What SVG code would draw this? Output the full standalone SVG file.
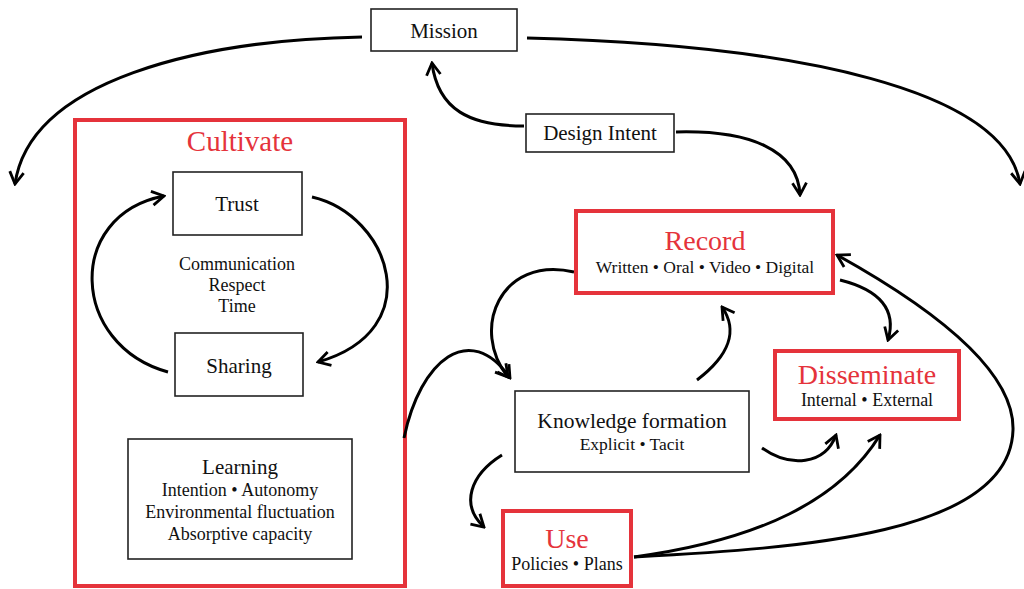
<svg xmlns="http://www.w3.org/2000/svg" width="1024" height="589" viewBox="0 0 1024 589">
<style>
.box{fill:#fff;stroke:#222;stroke-width:1.6}
.rbox{fill:#fff;stroke:#e5333b;stroke-width:4}
.t{font-family:"Liberation Serif","Times New Roman",serif;fill:#111;text-anchor:middle}
.r{fill:#e5333b}
.c{fill:none;stroke:#000;stroke-width:3;marker-end:url(#ah)}
</style>
<defs>
<marker id="ah" viewBox="-14 -9 16 18" refX="0" refY="0" markerWidth="16" markerHeight="18" markerUnits="userSpaceOnUse" orient="auto">
<path d="M-12,-7 L0,0 L-12,7" fill="none" stroke="#000" stroke-width="2.8"/>
</marker>
</defs>
<rect width="1024" height="589" fill="#fff"/>
<g id="cultivate">
<rect class="rbox" x="75" y="120" width="330" height="466" style="fill:none"/>
<text class="t r" x="240" y="151" font-size="29">Cultivate</text>
</g>
<g id="connectors">
<path class="c" d="M362 37 C200 40, 30 80, 15 184"/>
<path class="c" d="M527 38 C800 45, 1005 90, 1020 184"/>
<path class="c" d="M524 126 C470 126, 438 110, 432 63"/>
<path class="c" d="M676 132 C750 130, 798 150, 800 195"/>
<path class="c" d="M312 197 C390 215, 430 330, 318 362"/>
<path class="c" d="M168 372 C70 345, 65 215, 164 196"/>
<path class="c" d="M404 438 C420 360, 470 320, 510 378"/>
<path class="c" d="M574 272 C500 255, 470 330, 508 377"/>
<path class="c" d="M697 380 C730 355, 738 330, 722 307"/>
<path class="c" d="M840 280 C880 290, 897 310, 888 340"/>
<path class="c" d="M634 557 C800 548, 1010 535, 1013 430 C1015 360, 900 290, 837 255"/>
<path class="c" d="M634 557 C760 540, 840 500, 880 435"/>
<path class="c" d="M762 448 C790 468, 825 465, 836 435"/>
<path class="c" d="M502 455 C470 475, 460 505, 484 527"/>
</g>
<g id="mission">
<rect class="box" x="371" y="9" width="146" height="42"/>
<text class="t" x="444" y="38" font-size="21">Mission</text>
</g>
<g id="design-intent">
<rect class="box" x="526" y="114" width="148" height="38"/>
<text class="t" x="600" y="140" font-size="21">Design Intent</text>
</g>
<g id="trust">
<rect class="box" x="173" y="172" width="129" height="63"/>
<text class="t" x="237" y="211" font-size="21">Trust</text>
</g>
<g id="factors">
<text class="t" x="237" y="270" font-size="18">Communication</text>
<text class="t" x="237" y="291" font-size="18">Respect</text>
<text class="t" x="237" y="312" font-size="18">Time</text>
</g>
<g id="sharing">
<rect class="box" x="175" y="333" width="128" height="63"/>
<text class="t" x="239" y="373" font-size="21">Sharing</text>
</g>
<g id="learning">
<rect class="box" x="128" y="439" width="224" height="120"/>
<text class="t" x="240" y="474" font-size="21">Learning</text>
<text class="t" x="240" y="496" font-size="18">Intention • Autonomy</text>
<text class="t" x="240" y="518" font-size="18">Environmental fluctuation</text>
<text class="t" x="240" y="540" font-size="18">Absorptive capacity</text>
</g>
<g id="record">
<rect class="rbox" x="576" y="211" width="257" height="82"/>
<text class="t r" x="705" y="250" font-size="28">Record</text>
<text class="t" x="705" y="273" font-size="17.5">Written • Oral • Video • Digital</text>
</g>
<g id="disseminate">
<rect class="rbox" x="775" y="351" width="184" height="68"/>
<text class="t r" x="867" y="384" font-size="28">Disseminate</text>
<text class="t" x="867" y="406" font-size="18">Internal • External</text>
</g>
<g id="knowledge">
<rect class="box" x="515" y="391" width="234" height="81"/>
<text class="t" x="632" y="428" font-size="21.5">Knowledge formation</text>
<text class="t" x="632" y="450" font-size="17.5">Explicit • Tacit</text>
</g>
<g id="use">
<rect class="rbox" x="503" y="511" width="128" height="75"/>
<text class="t r" x="567" y="548" font-size="28">Use</text>
<text class="t" x="567" y="570" font-size="18">Policies • Plans</text>
</g>
</svg>
